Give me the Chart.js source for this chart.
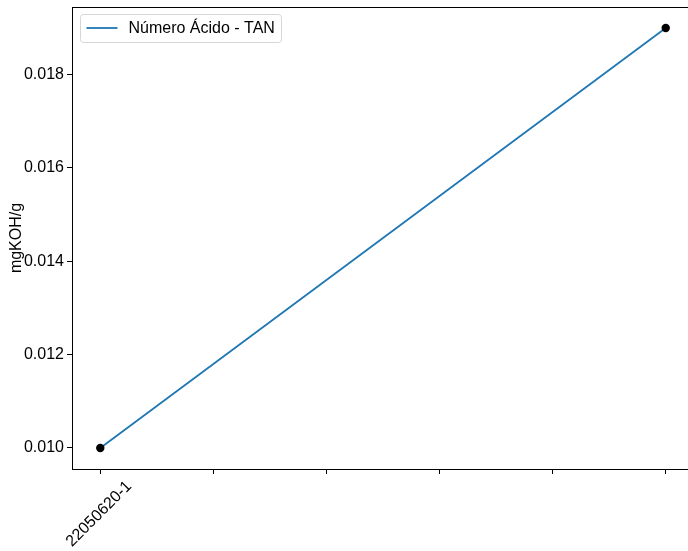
<!DOCTYPE html>
<html>
<head>
<meta charset="utf-8">
<script src="https://cdn.jsdelivr.net/npm/chart.js@4/dist/chart.umd.min.js"></script>
<style>
html,body{margin:0;padding:0;background:#fff;overflow:hidden;}
#wrap{width:688px;height:551px;position:relative;overflow:hidden;}
#c{position:absolute;left:0;top:0;}
</style>
</head>
<body>
<div id="wrap"><canvas id="c" width="695" height="551"></canvas></div>
<script>
const seriesLabel = 'Número Ácido - TAN';
const xValues = [0, 1];
const tanValues = [0.010, 0.019];
const xTickValues = [0, 0.2, 0.4, 0.6, 0.8, 1.0];
const xTickLabels = ['22050620-1', '', '', '', '', ''];
const yTickValues = [0.010, 0.012, 0.014, 0.016, 0.018];
const yAxisTitle = 'mgKOH/g';

const FONT = '"Liberation Sans", Arial, Helvetica, sans-serif';
Chart.defaults.font.family = FONT;
Chart.defaults.font.size = 16;
Chart.defaults.color = '#000';

const points = xValues.map((x, i) => ({x: x, y: tanValues[i]}));

function zeroPad(scale) {
  scale.paddingTop = 0; scale.paddingBottom = 0;
  scale.paddingLeft = 0; scale.paddingRight = 0;
}

const frame = {
  id: 'frame',
  afterDatasetsDraw(chart) {
    const a = chart.chartArea, ctx = chart.ctx;
    ctx.save();
    ctx.strokeStyle = '#000';
    ctx.lineWidth = 1;
    ctx.strokeRect(Math.round(a.left) + 0.5, Math.round(a.top) + 0.5, Math.round(a.right - a.left), Math.round(a.bottom - a.top));
    ctx.restore();
  },
  afterDraw(chart) {
    const ctx = chart.ctx;
    const a = chart.chartArea;
    const ds = chart.data.datasets[0];
    ctx.save();
    const x = a.left + 8.5, y = a.top + 7.5, w = 201, h = 28, r = 3;
    ctx.beginPath();
    ctx.moveTo(x + r, y);
    ctx.arcTo(x + w, y, x + w, y + h, r);
    ctx.arcTo(x + w, y + h, x, y + h, r);
    ctx.arcTo(x, y + h, x, y, r);
    ctx.arcTo(x, y, x + w, y, r);
    ctx.closePath();
    ctx.fillStyle = 'rgba(255,255,255,0.8)';
    ctx.fill();
    ctx.strokeStyle = '#d6d6d6';
    ctx.lineWidth = 1;
    ctx.stroke();
    ctx.beginPath();
    ctx.moveTo(x + 6, y + 13.5);
    ctx.lineTo(x + 37, y + 13.5);
    ctx.strokeStyle = ds.borderColor;
    ctx.lineWidth = 1.8;
    ctx.stroke();
    ctx.fillStyle = '#000';
    ctx.font = '16px ' + FONT;
    ctx.textBaseline = 'middle';
    ctx.textAlign = 'left';
    ctx.fillText(ds.label, x + 48, y + 14.5);
    ctx.restore();
  }
};

new Chart(document.getElementById('c'), {
  type: 'scatter',
  data: {
    datasets: [
      {
        label: seriesLabel,
        data: points,
        showLine: true,
        borderColor: '#1f77b4',
        borderWidth: 1.8,
        pointRadius: 0,
        pointHoverRadius: 0,
        order: 2
      },
      {
        label: '_markers',
        data: points,
        showLine: false,
        pointRadius: 4.2,
        pointBackgroundColor: '#000',
        pointBorderColor: '#000',
        pointBorderWidth: 0,
        order: 1
      }
    ]
  },
  options: {
    responsive: false,
    animation: false,
    devicePixelRatio: 1,
    layout: {autoPadding: false, padding: {top: 7, right: 1, left: 0, bottom: 0}},
    plugins: {legend: {display: false}, tooltip: {enabled: false}},
    scales: {
      x: {
        type: 'linear',
        min: -0.05,
        max: 1.05,
        afterBuildTicks(scale) { scale.ticks = xTickValues.map(v => ({value: v})); },
        afterFit(scale) { scale.height = 82; zeroPad(scale); },
        grid: {display: true, drawOnChartArea: false, drawTicks: true, tickLength: 5, color: '#000', tickWidth: 1},
        border: {display: false},
        ticks: {
          autoSkip: false,
          maxRotation: 45,
          minRotation: 45,
          padding: 3,
          labelOffset: 29,
          callback(value, index) { return xTickLabels[index]; }
        }
      },
      y: {
        min: 0.00955,
        max: 0.01945,
        afterBuildTicks(scale) { scale.ticks = yTickValues.map(v => ({value: v})); },
        afterFit(scale) { scale.width = 72; zeroPad(scale); },
        grid: {display: true, drawOnChartArea: false, drawTicks: true, tickLength: 5, color: '#000', tickWidth: 1},
        border: {display: false},
        title: {display: true, text: yAxisTitle, padding: {top: 7, bottom: 0}, font: {size: 16}},
        ticks: {
          padding: 3,
          callback(value) { return Number(value).toFixed(3); }
        }
      }
    }
  },
  plugins: [frame]
});
</script>
</body>
</html>
